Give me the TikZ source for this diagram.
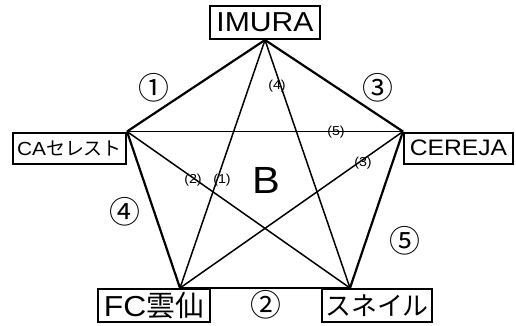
\documentclass[tikz,border=0pt]{standalone}
\usepackage{fontspec}
\setmainfont{Liberation Sans}[FakeStretch=1.1]
\newfontfamily\jp{Noto Sans CJK JP}
\begin{document}
\begin{tikzpicture}[x=1bp, y=-1bp, bord/.style={line width=2.2bp}, diag/.style={line width=1.5bp}]
        \tikzset{equipe/.style={rectangle, draw=black, line width=2bp, inner sep=0pt, minimum width=110bp, minimum height=33bp}};
        \tikzset{rang/.style={font=\jp\fontsize{31}{31}\selectfont}, score/.style={font=\fontsize{13}{13}\selectfont}};
        \useasboundingbox (0,0) rectangle (516,325);
        \node[equipe, font=\fontsize{27.5}{27.5}\selectfont] (imura) at (265,22.5) {IMURA};
        \node[equipe, minimum width=113bp, minimum height=31bp, font=\fontsize{19}{19}\selectfont] (ca) at (69.5,148) {CA{\jp セレスト}};
        \node[equipe, minimum width=109bp, minimum height=31bp, font=\fontsize{22.5}{22.5}\selectfont] (cereja) at (458.5,148) {CEREJA};
        \node[equipe, minimum width=112bp, font=\fontsize{29}{29}\selectfont] (fc) at (154,305.5) {FC{\jp 雲仙}};
        \node[equipe, font=\jp\fontsize{26}{26}\selectfont] (sneil) at (377,305.5) {スネイル};

        \path (imura.south)
            edge[bord] (ca.north east)
            edge[bord] (cereja.north west)
            edge[diag] ([xshift=26bp]fc.north)
            edge[diag] ([xshift=-27bp]sneil.north);
        \path (ca.north east)
            edge[bord] ([xshift=26bp]fc.north)
            edge[diag] (cereja.north west)
            edge[diag] ([xshift=-27bp]sneil.north);
        \path (cereja.north west)
            edge[bord] ([xshift=-27bp]sneil.north)
            edge[diag] ([xshift=26bp]fc.north);
        \draw[bord] ([xshift=26bp]fc.north) -- ([xshift=-27bp]sneil.north);

        \node[rang] (r1) at (154,88) {①};
        \node[rang] (r3) at (378,88) {③};
        \node[rang] (r4) at (125,212) {④};
        \node[rang] (r5) at (405,241) {⑤};
        \node[rang] (r2) at (266,305) {②};
        \node[font=\fontsize{38}{38}\selectfont] (b) at (266,180) {B};

        \node[score] (s4) at (277,86) {(4)};
        \node[score] (s5) at (336,132) {(5)};
        \node[score] (s3) at (363,163) {(3)};
        \node[score] (s2) at (193,180) {(2)};
        \node[score] (s1) at (222,180) {(1)};
    \end{tikzpicture}
\end{document}
